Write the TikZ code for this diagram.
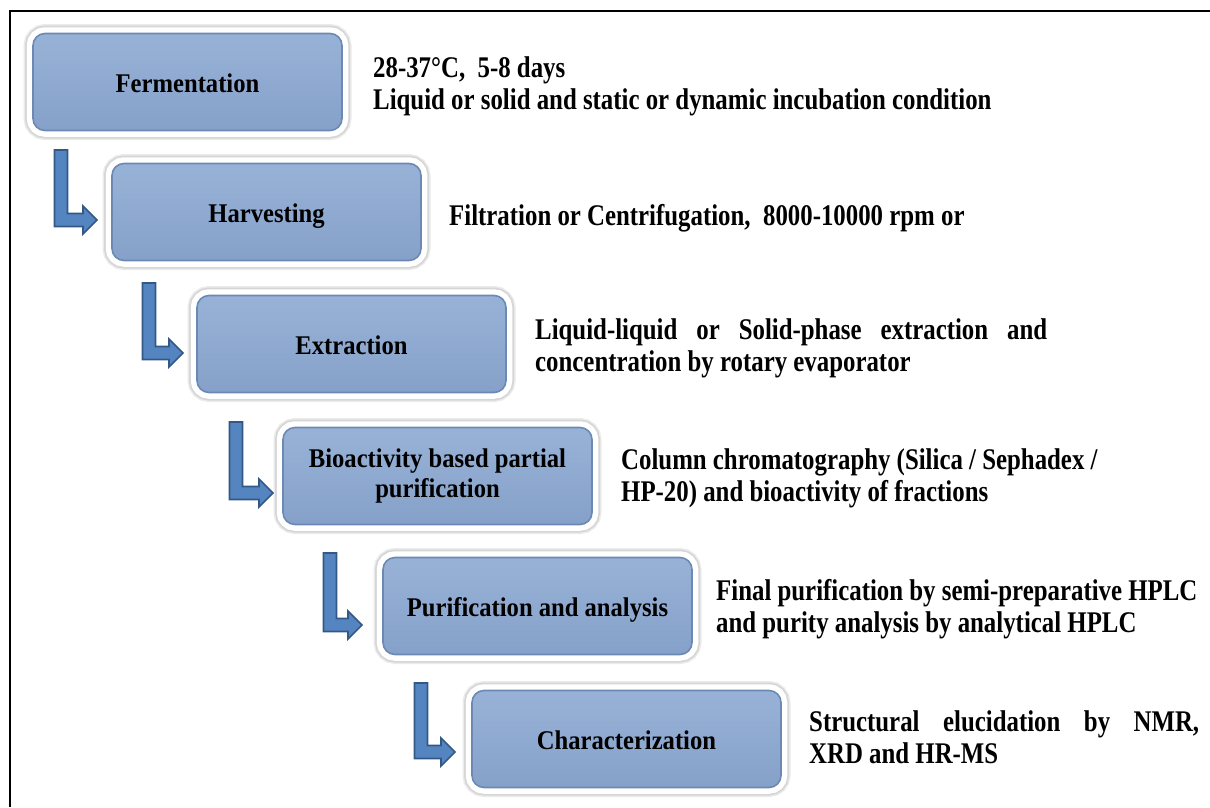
\documentclass[tikz,border=0pt]{standalone}
\usepackage{fontspec}
\setmainfont{Liberation Serif}
\newfontfamily\descfont[FakeStretch=0.828]{Liberation Serif}
\newfontfamily\labelfont[FakeStretch=0.912]{Liberation Serif}
\usetikzlibrary{calc}
\definecolor{boxtop}{RGB}{152,178,215}
\definecolor{boxbot}{RGB}{134,161,201}
\definecolor{boxrim}{RGB}{108,137,180}
\definecolor{arrfill}{RGB}{84,133,193}
\definecolor{arrline}{RGB}{52,88,134}
\newcommand\bentarrow[2]{\path[bent] let \p1=(#1), \p2=(#2) in
  (\x1-6.5pt,\y1) -- (\x1+6.5pt,\y1) -- (\x1+6.5pt,\y2+6.5pt) -- (\x2-14pt,\y2+6.5pt)
  -- (\x2-14pt,\y2+14pt) -- (\x2,\y2) -- (\x2-14pt,\y2-14pt) -- (\x2-14pt,\y2-6.5pt)
  -- (\x1-6.5pt,\y2-6.5pt) -- cycle;}
\begin{document}
\begin{tikzpicture}[x=1pt,y=-1pt,
  stepbox/.style={rectangle, rounded corners=12pt, minimum width=309pt, minimum height=97pt,
    inner sep=0pt, align=center, font=\labelfont\bfseries\fontsize{27}{30}\selectfont,
    top color=boxtop, bottom color=boxbot, draw=boxrim, line width=1.6pt,
    preaction={draw=black!8, line width=19pt},
    preaction={draw=black!16, line width=16pt},
    preaction={draw=white, line width=12.5pt}},
  oneline/.style={text height=25pt, text depth=4pt},
  desc/.style={anchor=base west, inner sep=0pt, align=left,
    font=\descfont\bfseries\fontsize{30}{32}\selectfont},
  bent/.style={fill=arrfill, draw=arrline, line width=1.7pt, line join=miter}
]
\useasboundingbox (0,0) rectangle (1210,807);
\fill[white] (0,0) rectangle (1210,807);
\draw[line width=2pt] (10,807) -- (10,11) -- (1210,11);

\node[stepbox,oneline] (s1) at (187.5,82) {Fermentation};
\node[stepbox,oneline] (s2) at (266.5,212) {Harvesting};
\node[stepbox,oneline] (s3) at (351.5,344) {Extraction};
\node[stepbox] (s4) at (437.5,476) {Bioactivity based partial\\purification};
\node[stepbox,oneline] (s5) at (537.5,606) {Purification and analysis};
\node[stepbox,oneline] (s6) at (626.5,739) {Characterization};

\coordinate (a1s) at (61,150);  \coordinate (a1t) at (97,220);
\coordinate (a2s) at (149,283); \coordinate (a2t) at (183,353);
\coordinate (a3s) at (236,422); \coordinate (a3t) at (273,493);
\coordinate (a4s) at (330,553); \coordinate (a4t) at (362,625);
\coordinate (a5s) at (421,683); \coordinate (a5t) at (455,752);
\bentarrow{a1s}{a1t}
\bentarrow{a2s}{a2t}
\bentarrow{a3s}{a3t}
\bentarrow{a4s}{a4t}
\bentarrow{a5s}{a5t}

\node[desc] (d1) at (373,109) {28-37°C,~ 5-8 days\\Liquid or solid and static or dynamic incubation condition};
\node[desc] (d2) at (449,225) {Filtration or Centrifugation,~ 8000-10000 rpm or};
\node[desc] (d3) at (535,371) {\makebox[512pt][s]{Liquid-liquid or Solid-phase extraction and}\\concentration by rotary evaporator};
\node[desc] (d4) at (621,501) {Column chromatography (Silica / Sephadex /\\HP-20) and bioactivity of fractions};
\node[desc] (d5) at (716,632) {Final purification by semi-preparative HPLC\\and purity analysis by analytical HPLC};
\node[desc] (d6) at (809,763) {\makebox[390pt][s]{Structural elucidation by NMR,}\\XRD and HR-MS};
\end{tikzpicture}
\end{document}
